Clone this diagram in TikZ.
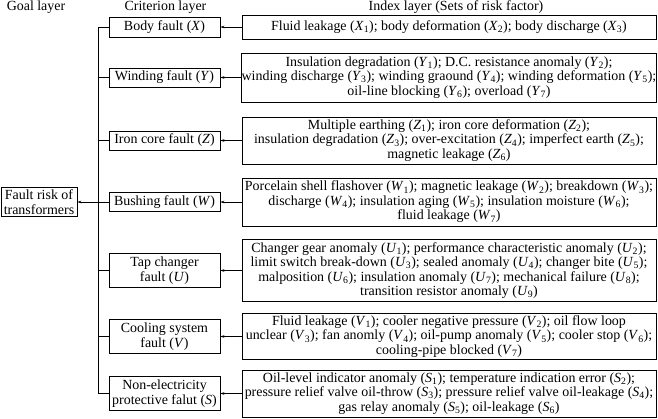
\documentclass[tikz,border=0pt]{standalone}
\usepackage{fontspec}
\setmainfont{Liberation Serif}
\usetikzlibrary{arrows.meta}
\newcommand\vv[2]{(\textit{#1}\textsubscript{#2})}
\newcommand\vi[1]{(\textit{#1})}
\begin{document}
\begin{tikzpicture}[x=1bp,y=-1bp,
  every node/.style={font=\fontsize{14}{14.6}\selectfont, inner sep=0pt, align=center},
  ibox/.style={draw, line width=0.8bp, minimum width=414bp},
  cbox/.style={draw, line width=0.8bp, minimum width=111bp},
  gbox/.style={draw, line width=0.8bp, minimum width=76bp, minimum height=29bp},
  conn/.style={line width=0.8bp},
  arr/.style={line width=0.8bp, -{Stealth[length=4bp,width=2.6bp]}},
  head/.style={}]
\useasboundingbox (0,0) rectangle (658,418);
% headers
\node[head] (h1) at (36,7) {Goal layer};
\node[head] (h2) at (165.5,7) {Criterion layer};
\node[head] (h3) at (456,7) {Index layer (Sets of risk factor)};
% goal
\node[gbox] (goal) at (39,202) {Fault risk of\\transformers};
% criterion
\node[cbox, minimum height=20bp] (cx) at (164.5,27) {Body fault \vi{X}};
\node[cbox, minimum height=19bp] (cy) at (164.5,77.5) {Winding fault \vi{Y}};
\node[cbox, minimum height=19bp] (cz) at (164.5,140.5) {Iron core fault \vi{Z}};
\node[cbox, minimum height=19bp] (cw) at (164.5,202) {Bushing fault \vi{W}};
\node[cbox, minimum height=34bp] (cu) at (164.5,270.5) {Tap changer\\fault \vi{U}};
\node[cbox, minimum height=34bp] (cv) at (164.5,336.5) {Cooling system\\fault \vi{V}};
\node[cbox, minimum height=34bp] (cs) at (164.5,393.5) {Non-electricity\\protective falut \vi{S}};
% index
\node[ibox, minimum height=24bp] (ix) at (449,27) {Fluid leakage \vv{X}{1}; body deformation \vv{X}{2}; body discharge \vv{X}{3}};
\node[ibox, minimum height=49bp] (iy) at (449,77.5) {Insulation degradation \vv{Y}{1}; D.C. resistance anomaly \vv{Y}{2};\\winding discharge \vv{Y}{3}; winding graound \vv{Y}{4}; winding deformation \vv{Y}{5};\\oil-line blocking \vv{Y}{6}; overload \vv{Y}{7}};
\node[ibox, minimum height=47bp] (iz) at (449,140.5) {Multiple earthing \vv{Z}{1}; iron core deformation \vv{Z}{2};\\insulation degradation \vv{Z}{3}; over-excitation \vv{Z}{4}; imperfect earth \vv{Z}{5};\\magnetic leakage \vv{Z}{6}};
\node[ibox, minimum height=48bp] (iw) at (449,202) {Porcelain shell flashover \vv{W}{1}; magnetic leakage \vv{W}{2}; breakdown \vv{W}{3};\\discharge \vv{W}{4}; insulation aging \vv{W}{5}; insulation moisture \vv{W}{6};\\fluid leakage \vv{W}{7}};
\node[ibox, minimum height=62bp] (iu) at (449,270.5) {Changer gear anomaly \vv{U}{1}; performance characteristic anomaly \vv{U}{2};\\limit switch break-down \vv{U}{3}; sealed anomaly \vv{U}{4}; changer bite \vv{U}{5};\\malposition \vv{U}{6}; insulation anomaly \vv{U}{7}; mechanical failure \vv{U}{8};\\transition resistor anomaly \vv{U}{9}};
\node[ibox, minimum height=46bp] (iv) at (449,336.5) {Fluid leakage \vv{V}{1}; cooler negative pressure \vv{V}{2}; oil flow loop\\unclear \vv{V}{3}; fan anomly \vv{V}{4}; oil-pump anomaly \vv{V}{5}; cooler stop \vv{V}{6};\\cooling-pipe blocked \vv{V}{7}};
\node[ibox, minimum height=47bp] (is) at (449,393.5) {Oil-level indicator anomaly \vv{S}{1}; temperature indication error \vv{S}{2};\\pressure relief valve oil-throw \vv{S}{3}; pressure relief valve oil-leakage \vv{S}{4};\\gas relay anomaly \vv{S}{5}; oil-leakage \vv{S}{6}};
% connectors index -> criterion
\foreach \a/\b in {ix/cx,iy/cy,iz/cz,iw/cw,iu/cu,iv/cv,is/cs}
  \draw[arr] (\a.west) -- (\b.east);
% spine
\coordinate (sp) at (98,0);
\draw[conn] (cx.west) -- (cx.west -| sp) -- (cs.west -| sp) -- (cs.west);
\foreach \c in {cy,cz,cu,cv}
  \draw[conn] (\c.west) -- (\c.west -| sp);
\draw[arr] (cw.west) -- (goal.east);
\end{tikzpicture}
\end{document}
